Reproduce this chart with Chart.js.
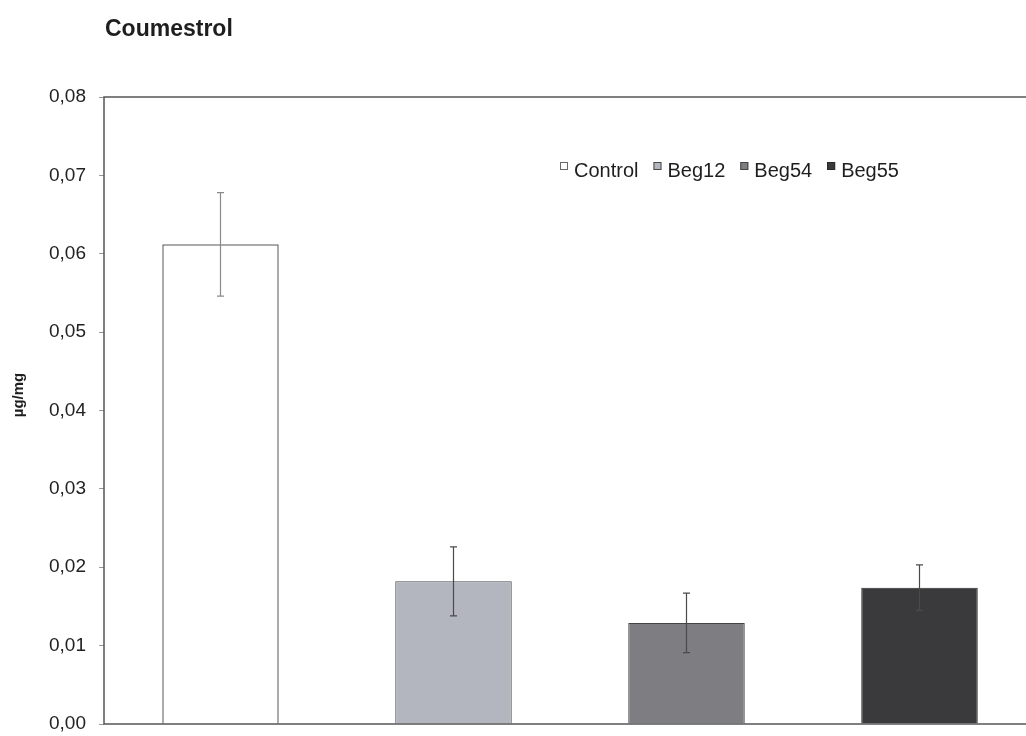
<!DOCTYPE html>
<html>
<head>
<meta charset="utf-8">
<script src="https://cdn.jsdelivr.net/npm/chart.js@4/dist/chart.umd.min.js"></script>
<style>
  html, body { margin: 0; padding: 0; background: #ffffff; overflow: hidden; }
  #wrap { position: absolute; left: 0; top: 0; width: 1040px; height: 736px; }
</style>
</head>
<body>
<div id="wrap"><canvas id="chart"></canvas></div>
<script>
// Coumestrol content per treatment (µg/mg), with standard deviations
const chartTitle = 'Coumestrol';
const axisTitle = 'µg/mg';
const groups = ['Control', 'Beg12', 'Beg54', 'Beg55'];
const means = [0.0612, 0.0182, 0.0129, 0.0174];
const errors = [0.0066, 0.0044, 0.0038, 0.0029];
const fills = ['#ffffff', '#b3b6bf', '#7e7e82', '#3a3a3c'];
const borders = ['#6a6a6a', '#4a4a4a', '#454545', '#2a2a2a'];
const yTicks = [0, 0.01, 0.02, 0.03, 0.04, 0.05, 0.06, 0.07, 0.08];

const FONT = '"Liberation Sans", Arial, sans-serif';

// one dataset per treatment, each occupying its own category slot
const datasets = groups.map((g, i) => ({
  label: g,
  data: groups.map((_, j) => (j === i ? means[i] : null)),
  backgroundColor: fills[i],
  borderColor: borders[i],
  borderWidth: i === 0 ? 1.5 : 1,
  errs: groups.map((_, j) => (j === i ? errors[i] : null)),
  categoryPercentage: 1,
  barPercentage: 0.5
}));

const framePlugin = {
  id: 'frame',
  afterDatasetsDraw(chart) {
    const { ctx, chartArea: a } = chart;
    ctx.save();
    ctx.strokeStyle = '#555555';
    ctx.lineWidth = 1.5;
    ctx.strokeRect(a.left, a.top, a.right - a.left, a.bottom - a.top);
    ctx.restore();
  }
};

const errorBarPlugin = {
  id: 'errorBars',
  afterDatasetsDraw(chart) {
    const { ctx } = chart;
    const y = chart.scales.y;
    ctx.save();
    chart.data.datasets.forEach((ds, di) => {
      const meta = chart.getDatasetMeta(di);
      ds.data.forEach((v, i) => {
        if (v === null) return;
        const e = ds.errs[i];
        const x = meta.data[i].x;
        const yTop = y.getPixelForValue(v + e);
        const yBot = y.getPixelForValue(v - e);
        ctx.strokeStyle = di === 0 ? '#8a8a8a' : '#4a4a4a';
        ctx.lineWidth = 1.2;
        ctx.beginPath();
        ctx.moveTo(x, yTop); ctx.lineTo(x, yBot);
        ctx.moveTo(x - 3.5, yTop); ctx.lineTo(x + 3.5, yTop);
        ctx.moveTo(x - 3.5, yBot); ctx.lineTo(x + 3.5, yBot);
        ctx.stroke();
      });
    });
    ctx.restore();
  }
};

const textPlugin = {
  id: 'texts',
  afterDraw(chart) {
    const { ctx, chartArea: a } = chart;
    ctx.save();
    // chart title
    ctx.fillStyle = '#1e1e1e';
    ctx.font = 'bold 23px ' + FONT;
    ctx.textAlign = 'left';
    ctx.textBaseline = 'middle';
    ctx.fillText(chartTitle, a.left + 1, 30);
    // y axis title
    ctx.save();
    ctx.translate(19, 395);
    ctx.rotate(-Math.PI / 2);
    ctx.font = 'bold 15px ' + FONT;
    ctx.textAlign = 'center';
    ctx.fillText(axisTitle, 0, 0);
    ctx.restore();
    // legend
    ctx.font = '20px ' + FONT;
    ctx.textBaseline = 'alphabetic';
    let x = a.left + 456;
    const base = 177;
    chart.data.datasets.forEach((ds) => {
      ctx.fillStyle = ds.backgroundColor;
      ctx.fillRect(x, base - 15, 8, 8);
      ctx.strokeStyle = ds.borderColor;
      ctx.lineWidth = 1;
      ctx.strokeRect(x + 0.5, base - 14.5, 7, 7);
      x += 14;
      ctx.fillStyle = '#1e1e1e';
      ctx.fillText(ds.label, x, base);
      x += ctx.measureText(ds.label).width + 15;
    });
    ctx.restore();
  }
};

new Chart(document.getElementById('chart'), {
  type: 'bar',
  data: { labels: groups, datasets },
  options: {
    responsive: true,
    maintainAspectRatio: false,
    animation: false,
    layout: { padding: { top: 97, bottom: 12, left: 0, right: 4 } },
    plugins: {
      legend: { display: false },
      title: { display: false },
      tooltip: { enabled: false }
    },
    datasets: { bar: { grouped: false } },
    scales: {
      x: { display: false },
      y: {
        min: 0,
        max: 0.08,
        afterFit(scale) {
          scale.width = 104;
          scale.paddingTop = 0;
          scale.paddingBottom = 0;
        },
        afterBuildTicks(scale) { scale.ticks = yTicks.map(v => ({ value: v })); },
        ticks: {
          padding: 13,
          color: '#222222',
          font: { family: FONT, size: 19 },
          callback: (v) => v.toFixed(2).replace('.', ',')
        },
        grid: { drawOnChartArea: false, drawTicks: true, tickLength: 5, color: '#9a9a9a' },
        border: { display: false }
      }
    }
  },
  plugins: [framePlugin, errorBarPlugin, textPlugin]
});
</script>
</body>
</html>
